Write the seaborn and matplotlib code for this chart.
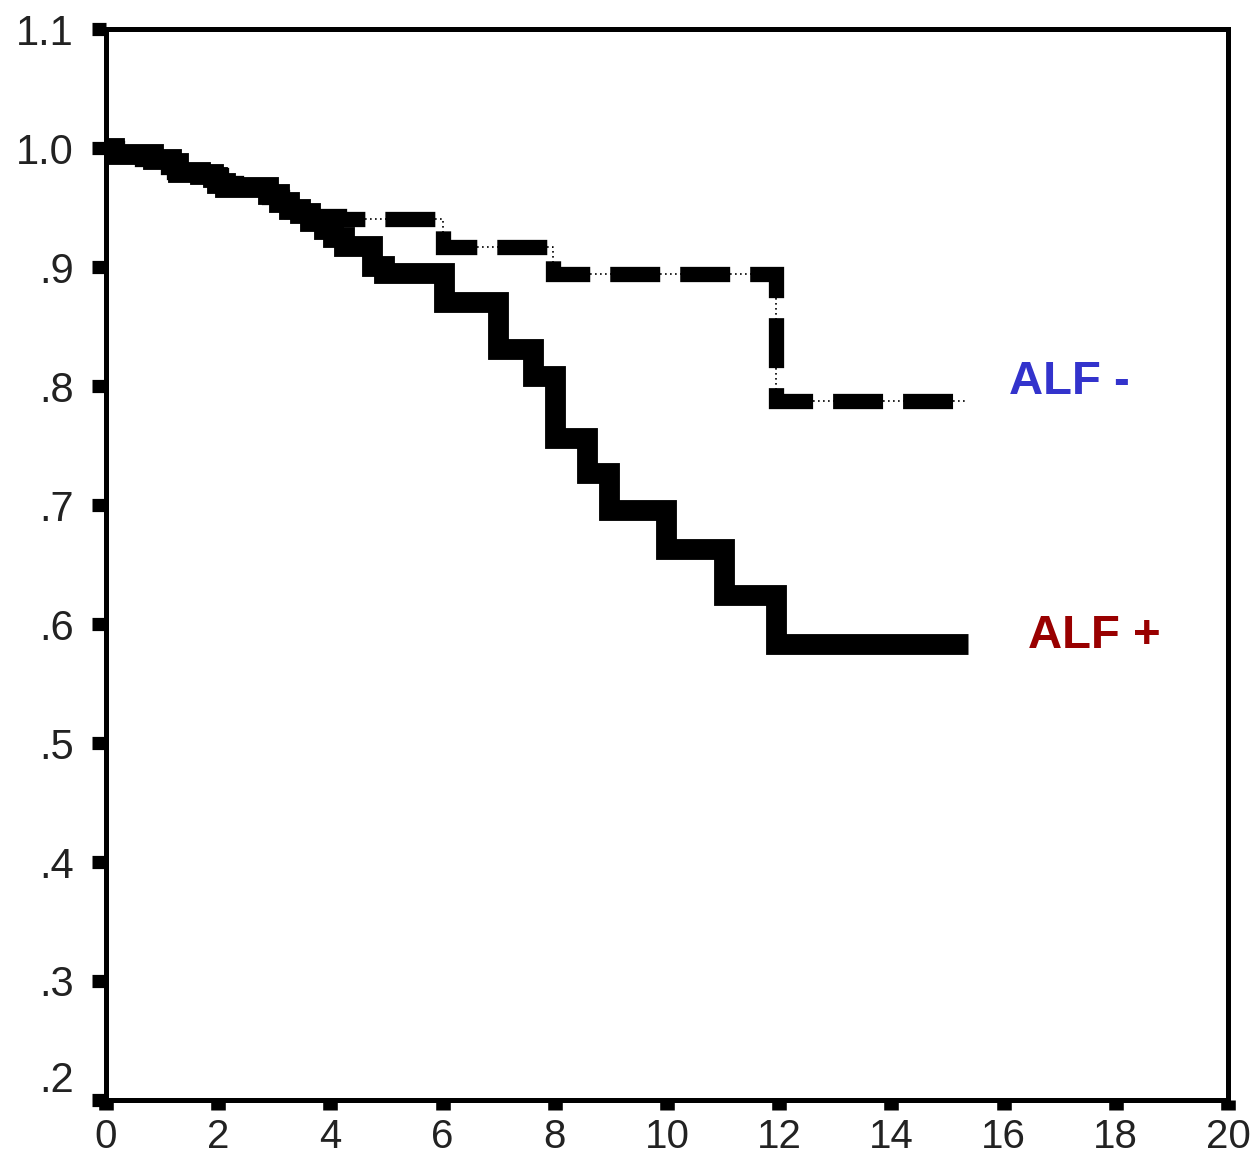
import numpy as np
import pandas as pd
import matplotlib
matplotlib.use("Agg")
import matplotlib.pyplot as plt
import matplotlib.transforms as mtransforms
import seaborn as sns

# ---- data ----
alf_pos_time = [0, 0.15, 0.84, 1.15, 1.29, 1.67, 1.91, 1.98, 2.12, 2.89, 3.08, 3.27,
                3.45, 3.63, 3.89, 4.05, 4.25, 4.75, 4.96, 6.03, 6.99, 7.62, 8.0, 8.57,
                8.97, 9.99, 11.02, 11.95, 15.36]
alf_pos_surv = [1.0, 0.995, 0.991, 0.987, 0.980, 0.978, 0.976, 0.971, 0.967, 0.961, 0.955, 0.949,
                0.945, 0.939, 0.932, 0.925, 0.918, 0.901, 0.895, 0.871, 0.831, 0.808, 0.756, 0.727,
                0.696, 0.663, 0.624, 0.583, 0.583]

alf_neg_time = [0, 0.2, 0.38, 0.65, 0.96, 1.11, 1.21, 1.82, 2.05, 2.32, 2.91, 3.14, 3.3,
                3.42, 4.16, 6.0, 7.96, 11.95, 15.33]
alf_neg_surv = [1.0, 0.996, 0.9935, 0.991, 0.988, 0.984, 0.980, 0.977, 0.971, 0.9675, 0.959,
                0.9535, 0.947, 0.943, 0.940, 0.917, 0.894, 0.787, 0.787]

x_ticks = [0, 2, 4, 6, 8, 10, 12, 14, 16, 18, 20]
x_tick_labels = ["0", "2", "4", "6", "8", "10", "12", "14", "16", "18", "20"]
y_ticks = [0.2, 0.3, 0.4, 0.5, 0.6, 0.7, 0.8, 0.9, 1.0, 1.1]
y_tick_labels = [".2", ".3", ".4", ".5", ".6", ".7", ".8", ".9", "1.0", "1.1"]

label_neg = "ALF -"
label_pos = "ALF +"
label_neg_pos = (16.1, 0.803)
label_pos_pos = (16.43, 0.590)

# ---- style ----
sns.set_theme(style="white")
plt.rcParams["font.family"] = ["Liberation Sans", "DejaVu Sans"]

W, H = 1253, 1160
fig = plt.figure(figsize=(W / 100, H / 100), dpi=100)
ax = fig.add_axes([106 / W, 1 - 1100 / H, (1228 - 106) / W, (1100 - 29) / H])

df_neg = pd.DataFrame({"time": alf_neg_time, "surv": alf_neg_surv})
df_pos = pd.DataFrame({"time": alf_pos_time, "surv": alf_pos_surv})

# thin dotted line underlying the dashed curve
sns.lineplot(data=df_neg, x="time", y="surv", ax=ax, drawstyle="steps-post",
             color="black", linewidth=1.2, linestyle=(0, (1, 2)),
             estimator=None, sort=False, legend=False)
# thick dashed curve (ALF -)
sns.lineplot(data=df_neg, x="time", y="surv", ax=ax, drawstyle="steps-post",
             color="black", linewidth=11, linestyle=(0, (3.27, 1.31)),
             dash_capstyle="butt", dash_joinstyle="miter",
             estimator=None, sort=False, legend=False)
# thick solid curve (ALF +)
sns.lineplot(data=df_pos, x="time", y="surv", ax=ax, drawstyle="steps-post",
             color="black", linewidth=15,
             solid_capstyle="butt", solid_joinstyle="miter",
             estimator=None, sort=False, legend=False)

ax.set_xlim(0, 20)
ax.set_ylim(0.2, 1.1)
ax.set_xticks(x_ticks)
ax.set_xticklabels(x_tick_labels)
ax.set_yticks(y_ticks)
ax.set_yticklabels(y_tick_labels)
ax.set_xlabel("")
ax.set_ylabel("")

for s in ax.spines.values():
    s.set_visible(True)
    s.set_color("black")
    s.set_linewidth(3.6)

ax.tick_params(axis="x", bottom=True, direction="out", length=7, width=10.5,
               color="black", labelsize=29, labelcolor="#222222", pad=6)
ax.tick_params(axis="y", left=True, direction="out", length=10, width=9.5,
               color="black", labelsize=30, labelcolor="#222222", pad=13)

# shift the lowest y label (".2") upward as in the reference
lbl = ax.yaxis.get_major_ticks()[0].label1
lbl.set_transform(lbl.get_transform() + mtransforms.ScaledTranslation(0, 0.23, fig.dpi_scale_trans))

ax.text(label_neg_pos[0], label_neg_pos[1], label_neg, color="#3333CC", fontsize=34,
        fontweight="bold", ha="left", va="center")
ax.text(label_pos_pos[0], label_pos_pos[1], label_pos, color="#990000", fontsize=34,
        fontweight="bold", ha="left", va="center")

fig.savefig("out.png", dpi=100, facecolor="white")
